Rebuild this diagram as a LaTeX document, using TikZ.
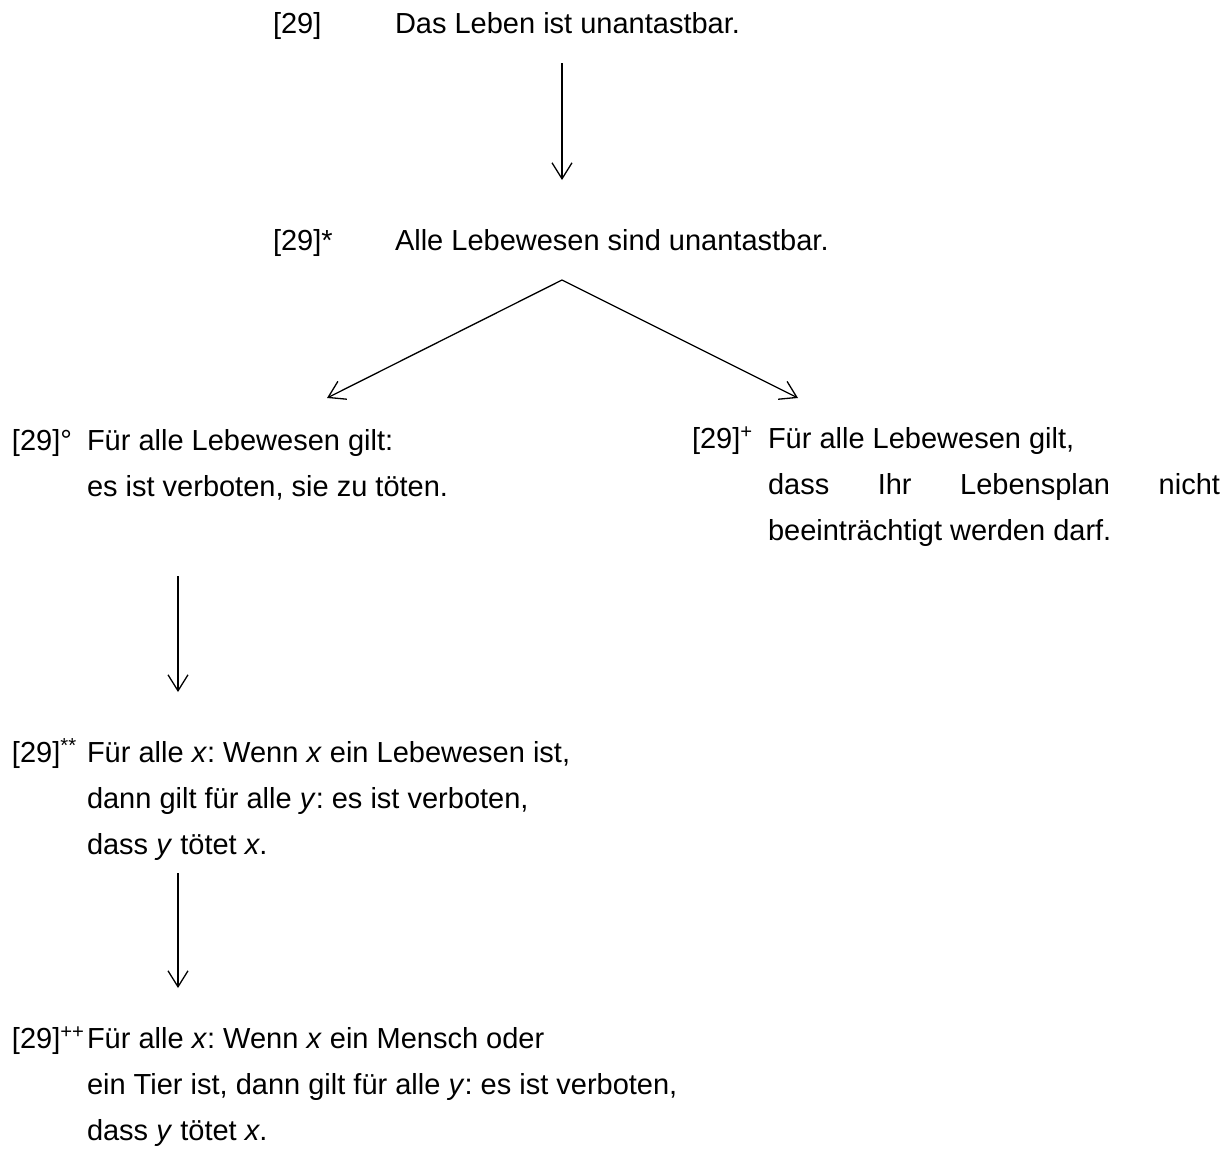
\documentclass[tikz,border=0pt]{standalone}
\usepackage{fontspec}
\setmainfont{Liberation Sans}
\usetikzlibrary{arrows.meta}
\frenchspacing
\begin{document}
\begin{tikzpicture}[x=1pt,y=-1pt,
  txt/.style={anchor=base west,inner sep=0pt,outer sep=0pt,font=\fontsize{29}{35}\selectfont},
  arr/.style={-{Straight Barb[length=16pt,width=20pt]},line width=1.3pt}]
\useasboundingbox (0,0) rectangle (1232,1157);

% [29]
\node[txt] (n0)  at (273,33) {[29]};
\node[txt] (t0)  at (395,33) {Das Leben ist unantastbar.};

% [29]*
\node[txt] (n1)  at (273,250) {[29]*};
\node[txt] (t1)  at (395,250) {Alle Lebewesen sind unantastbar.};

% [29]° (left branch)
\node[txt] (n2)  at (12,450) {[29]°};
\node[txt] (t2a) at (87,450) {Für alle Lebewesen gilt:};
\node[txt] (t2b) at (87,496) {es ist verboten, sie zu töten.};

% [29]+ (right branch)
\node[txt] (n3)  at (692,448) {[29]\textsuperscript{+}};
\node[txt] (t3a) at (768,448) {Für alle Lebewesen gilt,};
\node[txt] (t3b) at (768,494) {\hbox to 452pt{dass\hfill Ihr\hfill Lebensplan\hfill nicht}};
\node[txt] (t3c) at (768,540) {beeinträchtigt werden darf.};

% [29]**
\node[txt] (n4)  at (12,762) {[29]\textsuperscript{**}};
\node[txt] (t4a) at (87,762) {Für alle \textit{x}: Wenn \textit{x} ein Lebewesen ist,};
\node[txt] (t4b) at (87,808) {dann gilt für alle \textit{y}: es ist verboten,};
\node[txt] (t4c) at (87,854) {dass \textit{y} tötet \textit{x}.};

% [29]++
\node[txt] (n5)  at (12,1048) {[29]\textsuperscript{++}};
\node[txt] (t5a) at (87,1048) {Für alle \textit{x}: Wenn \textit{x} ein Mensch oder};
\node[txt] (t5b) at (87,1094) {ein Tier ist, dann gilt für alle \textit{y}: es ist verboten,};
\node[txt] (t5c) at (87,1140) {dass \textit{y} tötet \textit{x}.};

% arrow end points
\coordinate (a0s) at (562,63);
\coordinate (a0e) at (562,180);
\coordinate (fork) at (562,280);
\coordinate (a1l) at (327,398);
\coordinate (a1r) at (798,398);
\coordinate (a2s) at (178,576);
\coordinate (a2e) at (178,692);
\coordinate (a3s) at (178,873);
\coordinate (a3e) at (178,988);

\draw[arr] (a0s) -- (a0e);
\draw[arr] (fork) -- (a1l);
\draw[arr] (fork) -- (a1r);
\draw[arr] (a2s) -- (a2e);
\draw[arr] (a3s) -- (a3e);
\end{tikzpicture}
\end{document}
